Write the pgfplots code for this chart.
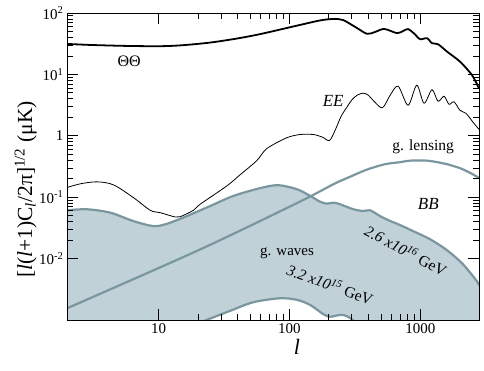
\documentclass[border=0pt]{standalone}
\usepackage{fontspec}
\setmainfont{Liberation Serif}
\usepackage{pgfplots}
\pgfplotsset{compat=1.18}
\definecolor{gwfill}{RGB}{192,209,216}
\definecolor{gwline}{RGB}{122,150,158}
\begin{document}
\begin{tikzpicture}
\begin{axis}[
 name=ax,
 xmode=log, ymode=log,
 scale only axis, width=412pt, height=307pt,
 xmin=2, xmax=2806, ymin=1e-3, ymax=100,
 axis on top,
 xtick={10,100,1000}, xticklabels={10,100,1000},
 ytick={0.01,0.1,1,10,100},
 yticklabels={10\textsuperscript{-2},10\textsuperscript{-1},1,10\textsuperscript{1},10\textsuperscript{2}},
 tick align=inside,
 major tick length=11pt, minor tick length=6pt,
 tick style={black, line width=0.8pt},
 ticklabel style={font=\fontsize{15}{17}\selectfont},
 /pgf/number format/assume math mode=true,
 xlabel={\textit{l}},
 xlabel style={font=\fontsize{22}{24}\selectfont, at={(axis description cs:0.558,-0.087)}, anchor=center},
 ylabel={[\textit{l}(\textit{l}+1)C\textsubscript{\textit{l}}/2π]\textsuperscript{1/2} (μK)},
 ylabel style={font=\fontsize{21.5}{24}\selectfont, at={(axis description cs:-0.100,0.425)}, anchor=center},
 axis line style={line width=0.8pt},
]
% filled gravity-wave region (upper curve)
\addplot[fill=gwfill, draw=none, smooth] coordinates {
(2,0.0612) (2.84,0.0636) (4.28,0.056) (6.44,0.0408) (9.17,0.0338) (11.6,0.0369) (16.5,0.0493) (24.8,0.0719) (37.4,0.105) (59.7,0.1405) (82,0.157) (114,0.135) (144,0.105) (171,0.0847) (193,0.0785) (217,0.0815) (244,0.0767) (308,0.0636) (367,0.0596) (413,0.0612) (492,0.0493) (566,0.0425) (700,0.0352) (879,0.0281) (1185,0.0207) (1600,0.01368) (2119,0.00807) (2710,0.00425) (2806,0.0036) (2806,0.0005) (2,0.0005)} -- cycle;
% white region under lower curve
\addplot[fill=white, draw=none, smooth] coordinates {
(20.5,0.0009) (35.2,0.00141) (53.1,0.00195) (84.9,0.00226) (114,0.00213) (144,0.00176) (182,0.00124) (205,0.00113) (244,0.00121) (274,0.00116) (317,0.00094)} -- cycle;
% gw upper line
\addplot[gwline, line width=2.2pt, smooth] coordinates {
(2,0.0612) (2.84,0.0636) (4.28,0.056) (6.44,0.0408) (9.17,0.0338) (11.6,0.0369) (16.5,0.0493) (24.8,0.0719) (37.4,0.105) (59.7,0.1405) (82,0.157) (114,0.135) (144,0.105) (171,0.0847) (193,0.0785) (217,0.0815) (244,0.0767) (308,0.0636) (367,0.0596) (413,0.0612) (492,0.0493) (566,0.0425) (700,0.0352) (879,0.0281) (1185,0.0207) (1600,0.01368) (2119,0.00807) (2710,0.00425) (2806,0.0036)};
% gw lower line
\addplot[gwline, line width=2.2pt, smooth] coordinates {
(20.5,0.0009) (35.2,0.00141) (53.1,0.00195) (84.9,0.00226) (114,0.00213) (144,0.00176) (182,0.00124) (205,0.00113) (244,0.00121) (274,0.00116) (317,0.00094)};
% lensing
\addplot[gwline, line width=2.2pt, smooth] coordinates {
(2,0.00155) (20.8,0.0141) (121,0.0853) (217,0.163) (290,0.215) (390,0.281) (538,0.345) (700,0.372) (834,0.394) (1125,0.394) (1413,0.365) (1600,0.345) (2010,0.297) (2394,0.250) (2806,0.207)};
% EE
\addplot[black, line width=0.8pt, smooth] coordinates {
(2,0.1436) (2.52,0.165) (3.39,0.178) (4.53,0.159) (6.44,0.0984) (8.65,0.0612) (10.3,0.056) (13.4,0.0476) (14.6,0.048) (18.5,0.0612) (20.8,0.0768) (33.3,0.153) (42,0.232) (56.3,0.394) (67.2,0.62) (95.5,0.93) (121,1.05) (152,1.05) (179,0.95) (202,0.838) (223,1.22) (248,2.07) (274,2.9) (300,3.85) (330,4.6) (365,4.95) (400,4.6) (440,3.7) (513,2.86) (588,4.58) (677,6.43) (806,3.14) (939,6.68) (1067,3.39) (1228,5.63) (1365,3.65) (1517,4.41) (1656,3.26) (1807,3.58) (2010,2.60) (2234,2.32) (2523,1.67) (2806,1.27)};
% TT
\addplot[black, line width=1.8pt, smooth] coordinates {
(2,31.4) (3,30.2) (5.74,29.1) (10.3,28.8) (15,29.8) (24.8,33) (40,38.5) (59.7,45.3) (107,60.3) (171,75.6) (216,79.8) (257,76.8) (329,56.7) (392,45.8) (450,49) (530,55) (664,47) (740,51) (805,54.7) (900,46) (995,37.5) (1125,38.9) (1228,32.2) (1365,31) (1600,23.5) (2010,16.1) (2480,9.75) (2806,5.9)};
% labels
\node[font=\fontsize{16}{18}\selectfont] at (axis cs:5.97,16.2) {ΘΘ};
\node[font=\fontsize{17}{19}\selectfont\itshape] at (axis cs:216,3.65) {EE};
\node[font=\fontsize{15.5}{18}\selectfont] at (axis cs:1050,0.66) {g. lensing};
\node[font=\fontsize{17}{19}\selectfont\itshape] at (axis cs:1151,0.0776) {BB};
\node[font=\fontsize{15}{18}\selectfont] at (axis cs:96,0.0122) {g. waves};
\node[rotate=-28, font=\fontsize{15.5}{18}\selectfont] at (axis cs:778,0.01368) {\textit{2.6 x10\textsuperscript{16}} GeV};
\node[rotate=-20, font=\fontsize{15.5}{18}\selectfont] at (axis cs:205,0.00384) {\textit{3.2 x10\textsuperscript{15}} GeV};
\end{axis}
\pgfresetboundingbox
\path[use as bounding box] ([shift={(-67pt,-50pt)}]ax.south west) rectangle ([shift={(5pt,13pt)}]ax.north east);
\end{tikzpicture}
\end{document}
